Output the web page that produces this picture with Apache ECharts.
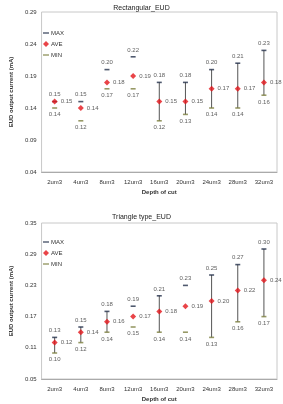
<!DOCTYPE html>
<html>
<head>
<meta charset="utf-8">
<script src="https://cdn.jsdelivr.net/npm/echarts@6/dist/echarts.min.js"></script>
<style>
  html, body { margin: 0; padding: 0; background: #fff; }
  #chart { width: 283px; height: 404px; }
</style>
</head>
<body>
<div id="chart"></div>
<script>
var depths = ['2um3', '4um3', '8um3', '12um3', '16um3', '20um3', '24um3', '28um3', '32um3'];

var rectMax = [0.15, 0.15, 0.20, 0.22, 0.18, 0.18, 0.20, 0.21, 0.23];
var rectAve = [0.15, 0.14, 0.18, 0.19, 0.15, 0.15, 0.17, 0.17, 0.18];
var rectMin = [0.14, 0.12, 0.17, 0.17, 0.12, 0.13, 0.14, 0.14, 0.16];

var triMax = [0.13, 0.15, 0.18, 0.19, 0.21, 0.23, 0.25, 0.27, 0.30];
var triAve = [0.12, 0.14, 0.16, 0.17, 0.18, 0.19, 0.20, 0.22, 0.24];
var triMin = [0.10, 0.12, 0.14, 0.15, 0.14, 0.14, 0.13, 0.16, 0.17];

// axis ranges: [from, step]
var rectAxis = [0.04, 0.05];
var triAxis = [0.05, 0.06];

var chartDom = document.getElementById('chart');
var myChart = echarts.init(chartDom);

var font = 'Liberation Sans';
var txt = '#333';

// values are drawn relative to the axis start so ticks land on 0.04, 0.09 ...
function shift(arr, base) {
    return arr.map(function (v, i) { return [i, +(v - base).toFixed(4), v]; });
}

function yAxisFor(idx, ax) {
    return {
        type: 'value', gridIndex: idx,
        min: 0, max: +(ax[1] * 5).toFixed(4), interval: ax[1],
        name: 'EUD output current (mA)', nameLocation: 'middle', nameGap: 15,
        nameTextStyle: { fontSize: 6, fontWeight: 'bold', color: txt, fontFamily: font },
        axisLine: { show: false }, axisTick: { show: false },
        splitLine: { show: false },
        axisLabel: {
            fontSize: 6, color: txt, fontFamily: font, margin: 5,
            formatter: function (v) { return (v + ax[0]).toFixed(2); }
        }
    };
}

function xAxisFor(idx) {
    return {
        type: 'category', gridIndex: idx, data: depths,
        name: 'Depth of cut', nameLocation: 'middle', nameGap: 17,
        nameTextStyle: { fontSize: 6, fontWeight: 'bold', color: txt, fontFamily: font },
        axisLine: { lineStyle: { color: '#aaa', width: 1 } },
        axisTick: { lineStyle: { color: '#aaa' }, length: 3 },
        axisLabel: { fontSize: 6, color: txt, fontFamily: font, margin: 7 }
    };
}

function bars(idx, mins, maxs, base, shown) {
    var d = [];
    shown.forEach(function (i) { d.push([i, +(mins[i] - base).toFixed(4), +(maxs[i] - base).toFixed(4)]); });
    return {
        type: 'custom', xAxisIndex: idx, yAxisIndex: idx, silent: true, z: 1,
        renderItem: function (params, api) {
            var a = api.coord([api.value(0), api.value(1)]);
            var b = api.coord([api.value(0), api.value(2)]);
            return {
                type: 'line',
                shape: { x1: a[0], y1: a[1], x2: b[0], y2: b[1] },
                style: { stroke: '#555', lineWidth: 1 }
            };
        },
        encode: { x: 0, y: [1, 2] },
        data: d
    };
}

function lbl(pos) {
    return {
        show: true, position: pos, distance: 3, fontSize: 6, color: txt, fontFamily: font,
        formatter: function (p) { return p.value[2].toFixed(2); }
    };
}

function points(idx, maxs, aves, mins, base) {
    return [
        {
            name: 'MAX', type: 'scatter', xAxisIndex: idx, yAxisIndex: idx, z: 3,
            symbol: 'rect', symbolSize: [5, 1.6],
            itemStyle: { color: '#23304a' },
            label: lbl('top'),
            data: shift(maxs, base)
        },
        {
            name: 'AVE', type: 'scatter', xAxisIndex: idx, yAxisIndex: idx, z: 4,
            symbol: 'diamond', symbolSize: 6,
            itemStyle: { color: '#e3151a' },
            label: lbl('right'),
            data: shift(aves, base)
        },
        {
            name: 'MIN', type: 'scatter', xAxisIndex: idx, yAxisIndex: idx, z: 3,
            symbol: 'rect', symbolSize: [5, 1.6],
            itemStyle: { color: '#7d8040' },
            label: lbl('bottom'),
            data: shift(mins, base)
        }
    ];
}

function legendAt(top) {
    return {
        orient: 'vertical', left: 38, top: top, itemGap: 5,
        itemWidth: 6, itemHeight: 6, selectedMode: false,
        textStyle: { fontSize: 6, color: txt, fontFamily: font, padding: [0, 0, 0, -3] },
        data: [
            { name: 'MAX', icon: 'path://M0,0L6,0L6,1.4L0,1.4Z' },
            { name: 'AVE', icon: 'diamond' },
            { name: 'MIN', icon: 'path://M0,0L6,0L6,1.4L0,1.4Z' }
        ]
    };
}

var option = {
    animation: false,
    title: [
        { text: 'Rectangular_EUD', left: 'center', top: 0,
          textStyle: { fontSize: 7, fontWeight: 'normal', color: '#222', fontFamily: font } },
        { text: 'Triangle type_EUD', left: 'center', top: 209,
          textStyle: { fontSize: 7, fontWeight: 'normal', color: '#222', fontFamily: font } }
    ],
    legend: [legendAt(25), legendAt(234)],
    grid: [
        { left: 22, right: 6, top: 12, height: 160, show: true, borderColor: '#c8c8c8', borderWidth: 1 },
        { left: 22, right: 6, top: 223, height: 156, show: true, borderColor: '#c8c8c8', borderWidth: 1 }
    ],
    xAxis: [xAxisFor(0), xAxisFor(1)],
    yAxis: [yAxisFor(0, rectAxis), yAxisFor(1, triAxis)],
    series: [
        bars(0, rectMin, rectMax, rectAxis[0], [4, 5, 6, 7, 8]),
        bars(1, triMin, triMax, triAxis[0], [0, 1, 2, 4, 6, 7, 8])
    ].concat(points(0, rectMax, rectAve, rectMin, rectAxis[0]))
     .concat(points(1, triMax, triAve, triMin, triAxis[0]))
};

option && myChart.setOption(option);
</script>
</body>
</html>
